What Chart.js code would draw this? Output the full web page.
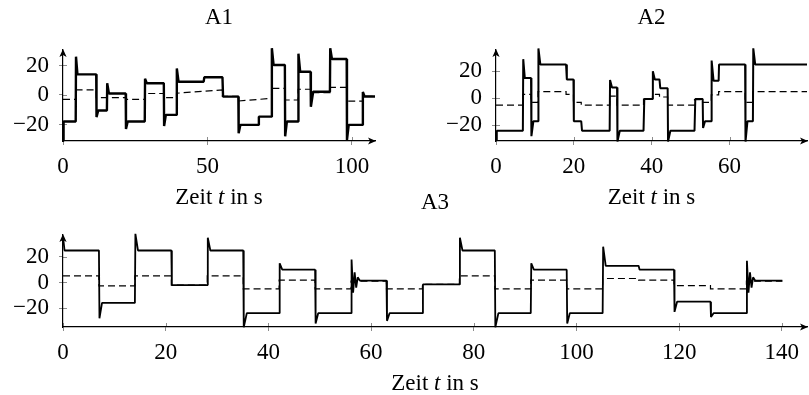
<!DOCTYPE html>
<html>
<head>
<meta charset="utf-8">
<script src="https://cdn.jsdelivr.net/npm/chart.js@4.4.1/dist/chart.umd.min.js"></script>
<style>
  html, body { margin: 0; padding: 0; background: #fff; }
  #wrap { position: relative; width: 809px; height: 395px; overflow: hidden; }
  canvas { position: absolute; }
</style>
</head>
<body>
<div id="wrap">
  <canvas id="a1" width="400" height="215" style="left:0;top:0"></canvas>
  <canvas id="a2" width="409" height="215" style="left:400px;top:0"></canvas>
  <canvas id="a3" width="809" height="215" style="left:0;top:180px"></canvas>
</div>
<script>
'use strict';

// --- A1: measured signal (time in s, value) and reference trace
var a1Time = [0, 0.2, 4.4, 4.5, 5.0, 11.5, 11.6, 12.2, 15.2, 15.3, 15.9, 21.7, 21.8, 22.4,
  28.3, 28.4, 29.0, 34.9, 35.0, 35.6, 39.3, 39.4, 40.0, 48.7, 48.9, 55.2, 55.4, 60.7,
  60.8, 61.4, 67.6, 67.8, 72.2, 72.3, 72.9, 76.8, 76.9, 77.5, 81.4, 81.5, 82.1, 85.7,
  85.8, 86.6, 92.4, 92.5, 93.1, 98.2, 98.3, 98.9, 103.7, 103.8, 104.4, 108];
var a1Signal = [-31, -18, -18, 26, 14, 14, -15, -10.5, -10.5, 8, 1, 1, -23, -18,
  -18, 11, 8, 8, -21, -13.5, -13.5, 18, 9, 9, 12, 12, -1.1, -1.1,
  -26, -20.3, -20.3, -14.7, -14.7, 31.7, 20.3, 20.3, -28, -18, -18, 28, 15.8, 15.8,
  -8, 2.2, 2.2, 31.7, 24.4, 24.4, -30.5, -20.3, -20.3, 2, -1, -1];
// the reference holds steps and two slow ramps, so it is listed point by point
var a1RefTime  = [0, 4.4, 4.4, 11.5, 11.5, 21.7, 21.7, 28.3, 28.3, 34.9, 34.9, 39.3, 39.3, 55.2,
  55.2, 60.7, 60.7, 72.2, 72.2, 76.8, 76.8, 81.4, 81.4, 85.7, 85.7, 92.4, 92.4, 98.2, 98.2,
  103.7, 103.7, 108];
var a1RefLevel = [-3, -3, 3.4, 3.4, -1.8, -1.8, -3, -3, 1, 1, -1.8, -1.8, 1.2, 3.4,
  -1, -1, -4.1, -2.3, 4.5, 4.5, -3.4, -3.4, 3.9, 3.9, 1.5, 1.5, 5.2, 5.2, -4.1,
  -4.1, -1, -1];
var a1XTicks = [0, 50, 100];

// --- A2 (reference given as step levels)
var a2Time = [0, 0.2, 6.9, 7.0, 7.4, 9.0, 9.1, 9.6, 10.8, 10.9, 11.4, 18.0, 18.2, 19.9,
  20.0, 21.9, 22.1, 29.2, 29.3, 29.8, 31.1, 31.2, 31.8, 37.9, 38.1, 40.2, 40.3, 40.8,
  42.0, 42.2, 44.1, 44.2, 44.8, 51.0, 51.2, 53.1, 53.2, 53.7, 55.3, 55.4, 55.9, 57.2,
  57.3, 64.0, 64.1, 64.6, 66.0, 66.1, 66.6, 79.9];
var a2Signal = [-31, -24, -24, 29, 15, 15, -28, -17, -17, 37, 25, 25, 14, 14,
  -17, -17, -24, -24, 13.5, 8, 8, -32, -24, -24, -0.5, -0.5, 20, 14,
  14, 7.5, 7.5, -32, -24, -24, -0.5, -0.5, -22, -17, -17, 28, 13, 13,
  25, 25, -32, -17, -17, 37, 25, 25];
var a2RefTime  = [0, 6.9, 9.0, 10.8, 18.0, 19.9, 21.9, 29.2, 31.1, 37.9, 40.2, 42.0, 44.1, 51.0, 53.1, 55.3, 57.2, 64.0, 66.0, 79.9];
var a2RefLevel = [-5, 3, -3, 5, 3, -3, -5, 1.7, -5, -0.5, 3, 1, -5, -1, -3, 2.5, 5, -3, 5, 5];
var a2XTicks = [0, 20, 40, 60];

// --- A3 (reference given as step levels)
var a3Time = [0, 0.3, 7.0, 7.1, 7.6, 14.0, 14.1, 14.6, 21.1, 21.2, 28.1, 28.2, 28.7,
  35.1, 35.2, 35.8, 42.1, 42.2, 42.7, 49.1, 49.2, 49.7, 56.1, 56.2, 56.5, 56.8, 57.1,
  57.4, 57.8, 63.0, 63.1, 63.6, 70.0, 70.1, 77.2, 77.3, 77.8, 84.1, 84.2, 84.8, 91.1,
  91.2, 91.7, 98.1, 98.2, 98.7, 105.1, 105.2, 105.7, 112.1, 112.3, 119.0, 119.1, 119.6,
  126.1, 126.2, 126.7, 133.1, 133.2, 133.5, 133.8, 134.1, 134.4, 134.8, 140.1];
var a3Signal = [36, 25, 25, -28, -16, -16, 38, 25, 25, -2, -2, 35, 25,
  25, -35, -24, -24, 15, 10, 10, -32, -24, -24, 18, -8, 8, -4,
  4, 1.5, 1.5, -30, -24, -24, -1.5, -1.5, 35, 25, 25, -35, -24, -24,
  15, 10, 10, -32, -24, -24, 28, 13, 13, 10, 10, -23, -15,
  -15, -27, -24, -24, 17, -8, 8, -4, 4, 1.5, 1.5];
var a3RefTime  = [0, 7, 14, 21.1, 28.1, 35.1, 42.1, 49.1, 56.1, 63, 70, 77.2, 84.1, 91.1, 98.1, 105.1, 112.1, 119, 126.1, 133.1, 140.1];
var a3RefLevel = [5.2, -2.6, 5.2, -2, 5.2, -5, 1.8, -5, 1, -5, -1.5, 5.2, -5, 1.8, -5, 3.1, 1.8, -2.4, -5, 1, 1];
var a3XTicks = [0, 20, 40, 60, 80, 100, 120, 140];

var yTicks = [-20, 0, 20];

var FONT = 'Liberation Serif';
var FSIZE = 23;
var TICK_GREY = 'rgba(0,0,0,0.45)';

function zip(xs, ys) {
  return xs.map(function (x, i) { return { x: x, y: ys[i] }; });
}

function fmt(v) {
  return v < 0 ? '\u2212' + Math.abs(v) : String(v);
}

// filled stealth-like arrow head, tip at (x, y)
function arrowHead(ctx, x, y, angle) {
  ctx.save();
  ctx.translate(x, y);
  ctx.rotate(angle);
  ctx.beginPath();
  ctx.moveTo(0, 0);
  ctx.lineTo(-8, -3.6);
  ctx.lineTo(-6, 0);
  ctx.lineTo(-8, 3.6);
  ctx.closePath();
  ctx.fill();
  ctx.restore();
}

// text pieces [string, italic]
function drawPieces(ctx, pieces, cx, baseline) {
  var widths = pieces.map(function (p) {
    ctx.font = (p[1] ? 'italic ' : '') + FSIZE + 'px "' + FONT + '"';
    return ctx.measureText(p[0]).width;
  });
  var total = widths.reduce(function (a, b) { return a + b; }, 0);
  var x = cx - total / 2;
  ctx.textAlign = 'left';
  ctx.textBaseline = 'alphabetic';
  pieces.forEach(function (p, i) {
    ctx.font = (p[1] ? 'italic ' : '') + FSIZE + 'px "' + FONT + '"';
    ctx.fillText(p[0], x, baseline);
    x += widths[i];
  });
}

var axisDecor = {
  id: 'axisDecor',
  afterDraw: function (chart, args, opts) {
    var ctx = chart.ctx, a = chart.chartArea;
    var xs = chart.scales.x, ys = chart.scales.y;
    ctx.save();
    // inner half of the tick marks
    ctx.strokeStyle = TICK_GREY;
    ctx.lineWidth = 1;
    ctx.beginPath();
    xs.ticks.forEach(function (t) {
      var px = Math.round(xs.getPixelForValue(t.value)) + 0.5;
      ctx.moveTo(px, a.bottom);
      ctx.lineTo(px, a.bottom - 4);
    });
    ys.ticks.forEach(function (t) {
      var py = Math.round(ys.getPixelForValue(t.value)) + 0.5;
      ctx.moveTo(a.left, py);
      ctx.lineTo(a.left + 4, py);
    });
    ctx.stroke();

    ctx.fillStyle = '#000';
    arrowHead(ctx, a.right + 1, a.bottom, 0);
    arrowHead(ctx, a.left, a.top - 1, -Math.PI / 2);

    var cx = (a.left + a.right) / 2;
    drawPieces(ctx, [[opts.title, false]], cx, a.top - 26);
    drawPieces(ctx, [['Zeit ', false], ['t', true], [' in s', false]], cx, a.bottom + 63);
    ctx.restore();
  }
};

function makePanel(id, cfg) {
  var tickFont = { family: FONT, size: FSIZE };
  return new Chart(document.getElementById(id), {
    type: 'line',
    data: {
      datasets: [
        {
          data: zip(cfg.time, cfg.signal),
          borderColor: '#000',
          borderWidth: cfg.lineWidth,
          borderJoinStyle: 'bevel',
          pointRadius: 0,
          tension: 0,
          clip: false
        },
        {
          data: zip(cfg.refTime, cfg.refLevel),
          borderColor: '#000',
          borderWidth: 1.2,
          borderDash: [7, 4],
          stepped: cfg.refStepped ? 'before' : false,
          pointRadius: 0,
          tension: 0,
          clip: false
        }
      ]
    },
    options: {
      responsive: false,
      animation: false,
      events: [],
      layout: { padding: cfg.padding },
      plugins: {
        legend: { display: false },
        tooltip: { enabled: false },
        axisDecor: { title: cfg.title }
      },
      scales: {
        x: {
          type: 'linear',
          min: 0,
          max: cfg.xMax,
          afterBuildTicks: function (s) { s.ticks = cfg.xTicks.map(function (v) { return { value: v }; }); },
          afterFit: function (s) { s.height = 40; },
          grid: { drawOnChartArea: false, tickLength: 4, color: TICK_GREY, lineWidth: 1 },
          border: { color: '#000', width: 1.2 },
          ticks: { font: tickFont, color: '#000', padding: 8, maxRotation: 0, callback: fmt }
        },
        y: {
          type: 'linear',
          min: cfg.yMin,
          max: cfg.yMax,
          afterBuildTicks: function (s) { s.ticks = yTicks.map(function (v) { return { value: v }; }); },
          afterFit: function (s) { s.width = cfg.yWidth; },
          grid: { drawOnChartArea: false, tickLength: 4, color: TICK_GREY, lineWidth: 1 },
          border: { color: '#000', width: 1.2 },
          ticks: { font: tickFont, color: '#000', padding: 10, callback: fmt }
        }
      }
    },
    plugins: [axisDecor]
  });
}

makePanel('a1', {
  title: 'A1', time: a1Time, signal: a1Signal, refTime: a1RefTime, refLevel: a1RefLevel,
  refStepped: false, xTicks: a1XTicks, xMax: 108, yMin: -31.2, yMax: 30.5, yWidth: 63,
  lineWidth: 2.4, padding: { left: 0, right: 25, top: 50, bottom: 34 }
});
makePanel('a2', {
  title: 'A2', time: a2Time, signal: a2Signal, refTime: a2RefTime, refLevel: a2RefLevel,
  refStepped: true, xTicks: a2XTicks, xMax: 79.9, yMin: -31.6, yMax: 35.8, yWidth: 96,
  lineWidth: 2, padding: { left: 0, right: 2, top: 50, bottom: 34 }
});
makePanel('a3', {
  title: 'A3', time: a3Time, signal: a3Signal, refTime: a3RefTime, refLevel: a3RefLevel,
  refStepped: true, xTicks: a3XTicks, xMax: 144.9, yMin: -34.8, yMax: 37.1, yWidth: 63,
  lineWidth: 1.8, padding: { left: 0, right: 2, top: 55, bottom: 28 }
});
</script>
</body>
</html>
